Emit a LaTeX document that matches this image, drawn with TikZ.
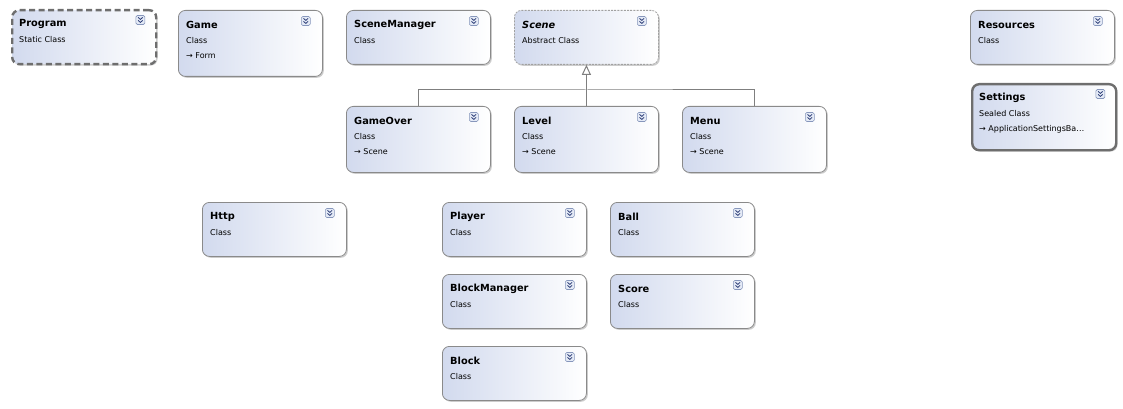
\documentclass[tikz,border=0pt]{standalone}
\usepackage{fontspec}
\setmainfont{DejaVu Sans}
\usetikzlibrary{arrows.meta,shadows}
\definecolor{boxleft}{HTML}{D2DAEE}
\definecolor{boxline}{HTML}{8A8A8A}
\definecolor{boxthick}{HTML}{6E6E6E}
\definecolor{btnfill}{HTML}{E4EAF6}
\definecolor{btnline}{HTML}{8797BC}
\definecolor{btnchev}{HTML}{2E3F78}
\definecolor{linkline}{HTML}{7F7F7F}

\begin{document}
\begin{tikzpicture}[x=1pt, y=-1pt,
  cls/.style={draw=boxline, line width=.8pt, rounded corners=7pt,
    minimum width=144pt, minimum height=54pt, anchor=north west,
    inner sep=0pt, left color=boxleft, right color=white,
    drop shadow={shadow xshift=1.4pt, shadow yshift=-1.4pt, opacity=.4}},
  tall/.style={minimum height=66pt},
  static/.style={draw=boxthick, line width=2.4pt, dash pattern=on 6pt off 3.5pt},
  abstract/.style={draw=boxline!80, dash pattern=on 2pt off 1.2pt},
  sealed/.style={draw=boxthick, line width=2.4pt},
  ctitle/.style={anchor=west, inner sep=0pt, font=\fontsize{9.8}{11}\selectfont\bfseries},
  ckind/.style={anchor=west, inner sep=0pt, font=\fontsize{8}{9}\selectfont},
  inherit/.style={draw=linkline, line width=1pt},
  chevbtn/.pic={
    \draw[btnline, fill=btnfill, line width=.6pt, rounded corners=1.5pt] (-4.5,-4.5) rectangle (4.5,4.5);
    \draw[btnchev, line width=.8pt] (-2.3,-2.6) -- (0,-0.6) -- (2.3,-2.6)
      (-2.3,0.4) -- (0,2.4) -- (2.3,0.4);
  }
]
  \useasboundingbox (0,0) rectangle (1123,409);

  % top row
  \node[cls, static] (prog) at (11,9) {};
  \node[cls, tall] (game) at (178,10) {};
  \node[cls] (scmgr) at (346,10) {};
  \node[cls, abstract] (scene) at (514,10) {};
  \node[cls] (res) at (970,10) {};
  \node[cls, tall, sealed] (settings) at (971,83) {};

  % derived scenes
  \node[cls, tall] (gover) at (346,106) {};
  \node[cls, tall] (level) at (514,106) {};
  \node[cls, tall] (menu) at (682,106) {};

  % game objects
  \node[cls] (http) at (202,202) {};
  \node[cls] (player) at (442,202) {};
  \node[cls] (ball) at (610,202) {};
  \node[cls] (bmgr) at (442,274) {};
  \node[cls] (score) at (610,274) {};
  \node[cls] (block) at (442,346) {};

  \foreach \n/\t/\k in {prog/Program/Static Class, game/Game/Class,
      scmgr/SceneManager/Class, scene/\textit{Scene}/Abstract Class,
      res/Resources/Class, settings/Settings/Sealed Class,
      gover/GameOver/Class, level/Level/Class, menu/Menu/Class,
      http/Http/Class, player/Player/Class, ball/Ball/Class,
      bmgr/BlockManager/Class, score/Score/Class, block/Block/Class}{
    \node[ctitle] (\n-t) at ([xshift=8pt, yshift=-14.5pt]\n.north west) {\t};
    \node[ckind] (\n-k) at ([xshift=8pt, yshift=-30.5pt]\n.north west) {\k};
    \pic at ([xshift=-17pt, yshift=-11pt]\n.north east) {chevbtn};
  }

  \foreach \n/\b in {game/Form, gover/Scene, level/Scene, menu/Scene,
      settings/ApplicationSettingsBa\ldots}
    \node[ckind] (\n-b) at ([xshift=8pt, yshift=-46pt]\n.north west) {→ \b};

  % inheritance
  \coordinate (fork) at ([yshift=16pt]level.north);
  \draw[inherit] (gover.north) |- (fork) -| (menu.north);
  \draw[inherit, -{Triangle[width=9pt, length=10pt, fill=white]}] (level.north) -- (scene.south);
\end{tikzpicture}
\end{document}
